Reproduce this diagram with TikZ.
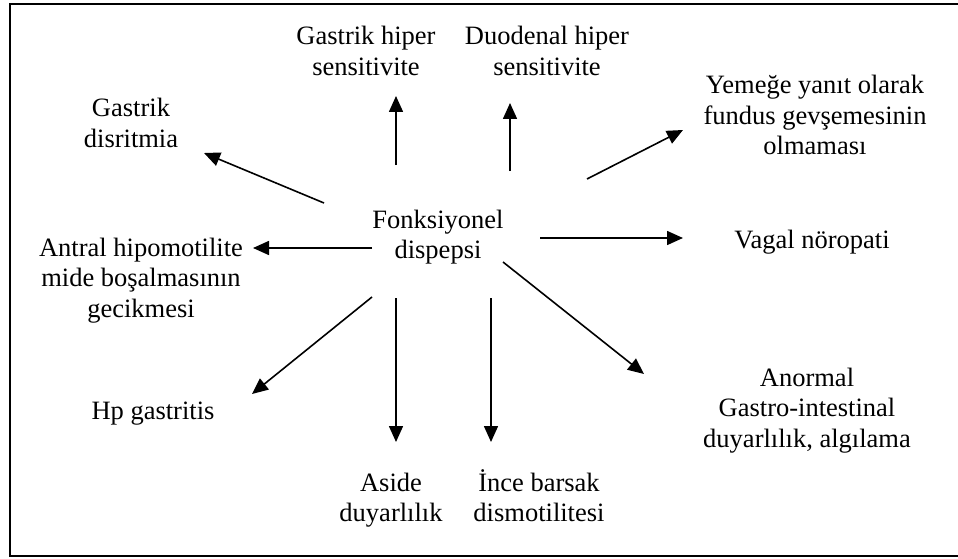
\documentclass[tikz,border=0pt]{standalone}
\usepackage{fontspec}
\setmainfont{Liberation Serif}
\usetikzlibrary{arrows.meta}
\newcommand\mlines[1]{\vtop{\halign{\hfil##\hfil\cr #1\crcr}}}
\begin{document}
\begin{tikzpicture}[x=1pt,y=-1pt,
  lbl/.style={inner sep=0pt,anchor=base,font=\fontsize{26.5}{30.5}\selectfont},
  arr/.style={line width=1.6pt,-{Triangle[length=16pt,width=14pt]}},
  frame/.style={line width=2pt}]
\useasboundingbox (0,0) rectangle (958,559);
% frame (right side lies outside the picture)
\draw[frame] (962,4) -- (9.5,4) -- (9.5,556) -- (962,556);
% labels
\node[lbl] (fd)  at (438,228) {\mlines{Fonksiyonel\cr dispepsi}};
\node[lbl] (ghs) at (366,45)  {\mlines{Gastrik hiper\cr sensitivite}};
\node[lbl] (dhs) at (547,45)  {\mlines{Duodenal hiper\cr sensitivite}};
\node[lbl] (gd)  at (131,117) {\mlines{Gastrik\cr disritmia}};
\node[lbl] (yf)  at (815,94)  {\mlines{Yemeğe yanıt olarak\cr fundus gevşemesinin\cr olmaması}};
\node[lbl] (ah)  at (141,256) {\mlines{Antral hipomotilite\cr mide boşalmasının\cr gecikmesi}};
\node[lbl] (vn)  at (812,248) {Vagal nöropati};
\node[lbl] (hp)  at (153,419) {Hp gastritis};
\node[lbl] (ad)  at (391,491) {\mlines{Aside\cr duyarlılık}};
\node[lbl] (ib)  at (539,491) {\mlines{İnce barsak\cr dismotilitesi}};
\node[lbl] (an)  at (807,386) {\mlines{Anormal\cr Gastro-intestinal\cr duyarlılık, algılama}};
% arrow end points
\coordinate (s1) at (396,165); \coordinate (t1) at (396,96);
\coordinate (s2) at (510,171); \coordinate (t2) at (510,103);
\coordinate (s3) at (324,203); \coordinate (t3) at (204,153);
\coordinate (s4) at (587,179); \coordinate (t4) at (683,130);
\coordinate (s5) at (372,248); \coordinate (t5) at (253,248);
\coordinate (s6) at (540,238); \coordinate (t6) at (683,238);
\coordinate (s7) at (372,297); \coordinate (t7) at (252,394);
\coordinate (s8) at (396,298); \coordinate (t8) at (396,442);
\coordinate (s9) at (491,298); \coordinate (t9) at (491,442);
\coordinate (s10) at (503,262); \coordinate (t10) at (644,374);
\foreach \i in {1,...,10} {\draw[arr] (s\i) -- (t\i);}
\end{tikzpicture}
\end{document}
